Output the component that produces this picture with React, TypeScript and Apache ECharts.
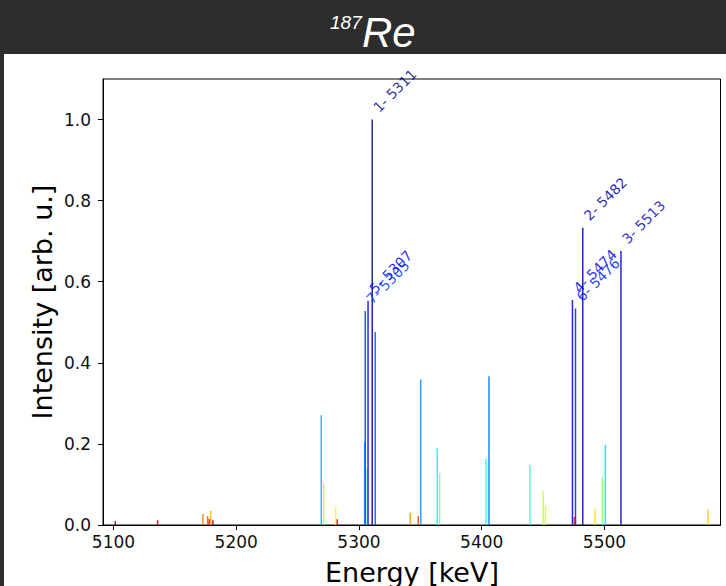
import React, { useEffect, useRef } from "react";
import * as echarts from "echarts";

// Line energies (keV) and relative intensities
const energies = [
  5101.5, 5136.0, 5172.9, 5176.7, 5178.0, 5179.2, 5181.0, 5269.3, 5271.2, 5281.0,
  5282.3, 5304.6, 5305.1, 5306.7, 5307.4, 5310.8, 5313.3, 5341.8, 5348.3, 5350.3,
  5363.8, 5365.7, 5403.5, 5405.9, 5439.3, 5450.1, 5451.8, 5473.9, 5475.4, 5476.4,
  5482.3, 5492.3, 5498.2, 5500.7, 5513.4, 5584.3,
];
const intensities = [
  0.010, 0.012, 0.027, 0.022, 0.015, 0.035, 0.012, 0.271, 0.103, 0.045,
  0.014, 0.205, 0.528, 0.140, 0.553, 1.000, 0.476, 0.030, 0.022, 0.359,
  0.189, 0.127, 0.163, 0.367, 0.148, 0.084, 0.049, 0.555, 0.020, 0.534,
  0.733, 0.040, 0.118, 0.198, 0.676, 0.039,
];
const labelledCount = 7;
const xTicks = [5100, 5200, 5300, 5400, 5500];
const yTicks = [0.0, 0.2, 0.4, 0.6, 0.8, 1.0];
const titleMass = "187";
const titleElement = "Re";
const xTitle = "Energy [keV]";
const yTitle = "Intensity [arb. u.]";

function jet(s: number): string {
  const c = (v: number) => Math.max(0, Math.min(1, v));
  const r = c(1.5 - Math.abs(4 * s - 3));
  const g = c(1.5 - Math.abs(4 * s - 2));
  const b = c(1.5 - Math.abs(4 * s - 1));
  const h = (v: number) => Math.round(v * 255).toString(16).padStart(2, "0");
  return "#" + h(r) + h(g) + h(b);
}

export default function App() {
  const ref = useRef<HTMLDivElement>(null);
  useEffect(() => {
    document.body.style.margin = "0";
    const chart = echarts.init(ref.current!, null, { renderer: "svg" });
    const n = energies.length;
    const order = intensities
      .map((v, i) => ({ v, i }))
      .sort((a, b) => b.v - a.v)
      .map((o) => o.i);
    const rank: number[] = new Array(n);
    order.forEach((idx, r) => (rank[idx] = r));

    const data = energies.map((e, i) => {
      const color = jet((rank[i] + 0.5) / n);
      const item: any = {
        value: [e, intensities[i]],
        itemStyle: { color, opacity: 0.85 },
      };
      if (rank[i] < labelledCount) {
        item.label = {
          show: true,
          position: "top",
          rotate: 45,
          align: "left",
          verticalAlign: "bottom",
          distance: 2,
          offset: [8, 4],
          color,
          fontSize: 14,
          fontFamily: "DejaVu Sans",
          formatter: `${rank[i] + 1}- ${Math.round(e)}`,
        };
      }
      return item;
    });

    const axisFont = { fontFamily: "DejaVu Sans", fontSize: 17, color: "#111" };

    chart.setOption({
      animation: false,
      backgroundColor: "#2d2d2d",
      graphic: [
        {
          type: "rect",
          z: -10,
          shape: { x: 4, y: 54, width: 722, height: 532 },
          style: { fill: "#ffffff" },
          silent: true,
        },
        {
          type: "text",
          x: 330,
          y: 22,
          style: {
            text: titleMass,
            fill: "#ffffff",
            font: "italic 19px 'Liberation Sans', Arial, sans-serif",
            align: "left",
            verticalAlign: "middle",
          },
        },
        {
          type: "text",
          x: 362,
          y: 32,
          style: {
            text: titleElement,
            fill: "#ffffff",
            font: "italic 42px 'Liberation Sans', Arial, sans-serif",
            align: "left",
            verticalAlign: "middle",
          },
        },
        {
          type: "text",
          x: 412,
          y: 572,
          style: {
            text: xTitle,
            fill: "#000",
            font: "27px 'DejaVu Sans'",
            align: "center",
            verticalAlign: "middle",
          },
        },
        {
          type: "text",
          x: 42,
          y: 302,
          rotation: Math.PI / 2,
          style: {
            text: yTitle,
            fill: "#000",
            font: "27px 'DejaVu Sans'",
            align: "center",
            verticalAlign: "middle",
          },
        },
      ],
      grid: {
        left: 103,
        top: 79,
        right: 5.5,
        bottom: 61,
        show: true,
        borderColor: "#000",
        borderWidth: 1,
        backgroundColor: "#fff",
      },
      xAxis: {
        type: "value",
        min: 5091.5,
        max: 5594.5,
        splitLine: { show: false },
        axisLine: { show: true, lineStyle: { color: "#000", width: 1 } },
        axisTick: {
          show: true,
          length: 5,
          lineStyle: { color: "#000", width: 1 },
          customValues: xTicks,
        },
        axisLabel: {
          ...axisFont,
          margin: 8,
          customValues: xTicks,
          formatter: (v: number) => String(Math.round(v)),
        },
      },
      yAxis: {
        type: "value",
        min: 0,
        max: 1.1,
        splitLine: { show: false },
        axisLine: { show: true, lineStyle: { color: "#000", width: 1 } },
        axisTick: {
          show: true,
          length: 5,
          lineStyle: { color: "#000", width: 1 },
          customValues: yTicks,
        },
        axisLabel: {
          ...axisFont,
          margin: 12,
          customValues: yTicks,
          formatter: (v: number) => v.toFixed(1),
        },
      },
      series: [
        {
          type: "bar",
          barWidth: 1.5,
          data,
          clip: false,
        },
      ],
    });
    return () => chart.dispose();
  }, []);
  return <div ref={ref} style={{ width: 726, height: 586 }} />;
}
